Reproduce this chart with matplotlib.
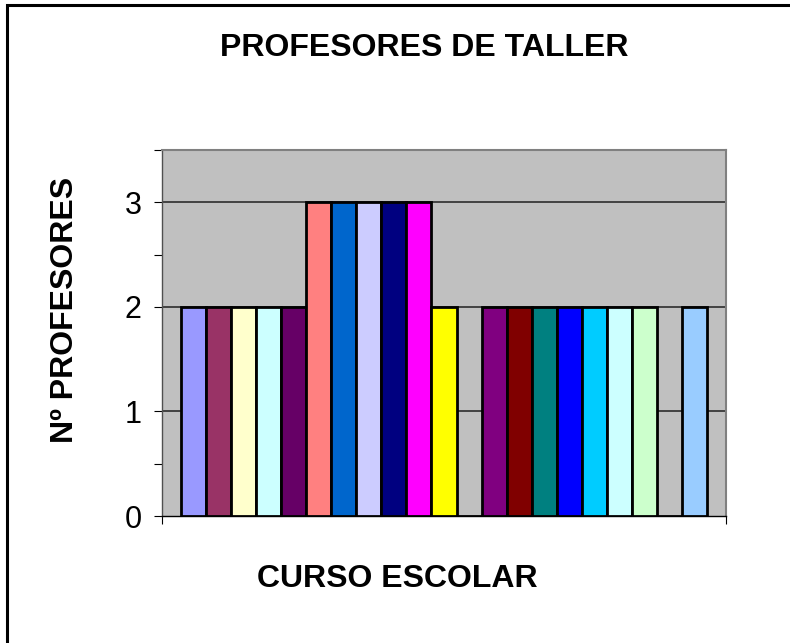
import matplotlib.pyplot as plt
from matplotlib.patches import Rectangle

plt.rcParams['font.family'] = ['Liberation Sans', 'DejaVu Sans']

# Datos: una serie por curso (sin leyenda en el original)
valores = [2, 2, 2, 2, 2, 3, 3, 3, 3, 3, 2, 0, 2, 2, 2, 2, 2, 2, 2, 0, 2]
colores = ["#9999FF", "#993366", "#FFFFCC", "#CCFFFF", "#660066", "#FF8080",
           "#0066CC", "#CCCCFF", "#000080", "#FF00FF", "#FFFF00", "#00FFFF",
           "#800080", "#800000", "#008080", "#0000FF", "#00CCFF", "#CCFFFF",
           "#CCFFCC", "#FFFF99", "#99CCFF"]
ticks_y = [0, 1, 2, 3]

fig = plt.figure(figsize=(7.9, 6.43), dpi=100)
ax = fig.add_axes([162 / 790, 1 - 516 / 643, 564 / 790, 366 / 643])
ax.set_facecolor("#C0C0C0")

x = list(range(len(valores)))
ax.bar(x, valores, width=1.0, color=colores, edgecolor="black", linewidth=2.0, zorder=3)

ax.set_xlim(-1.26, len(valores) - 1 + 1.26)
ax.set_ylim(0, 3.5)

# Lineas de division
for v in ticks_y[1:]:
    ax.axhline(v, color="#202020", linewidth=1.1, zorder=1)

ax.set_yticks(ticks_y)
ax.set_yticks([0.5, 2.5, 3.5], minor=True)
ax.set_yticklabels([str(t) for t in ticks_y], fontsize=22)
ax.tick_params(axis="y", which="both", length=5.5, width=0.8, pad=9, direction="out")
ax.set_xticks(ax.get_xlim())
ax.set_xticklabels([])
ax.tick_params(axis="x", length=6, width=0.8, direction="out")

for lado in ["top", "right"]:
    ax.spines[lado].set_color("#808080")
    ax.spines[lado].set_linewidth(1.5)
ax.spines["left"].set_color("#505050")
ax.spines["bottom"].set_color("black")
ax.spines["left"].set_linewidth(1.0)
ax.spines["bottom"].set_linewidth(1.0)

fig.text(424 / 790, 1 - 48 / 643, "PROFESORES DE TALLER", ha="center", va="center",
         fontsize=23, fontweight="bold")
fig.text(397 / 790, 1 - 579 / 643, "CURSO ESCOLAR", ha="center", va="center",
         fontsize=23, fontweight="bold")
fig.text(65 / 790, 1 - 310 / 643, "Nº PROFESORES", ha="center", va="center",
         rotation=90, fontsize=23, fontweight="bold")

# Marco del grafico (se sale por la derecha y abajo)
fig.patches.append(Rectangle((6.5 / 790, -0.1), 1.2, 1 - 5.5 / 643 + 0.1,
                             transform=fig.transFigure, fill=False,
                             edgecolor="black", linewidth=2.2))

fig.savefig("out.png", dpi=100)
